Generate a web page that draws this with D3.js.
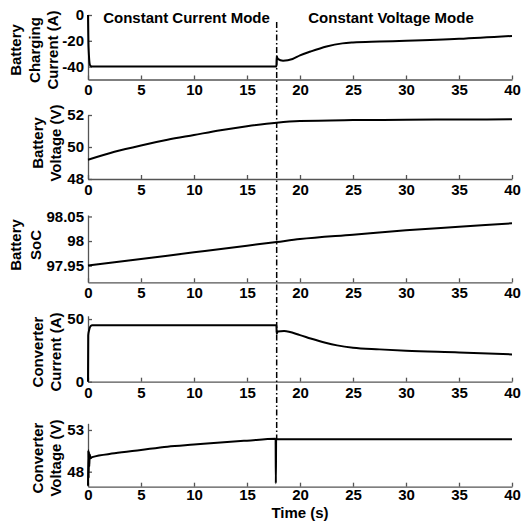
<!DOCTYPE html>
<html lang="en">
<head>
  <meta charset="UTF-8">
  <title>Battery charging modes</title>
  <script src="https://d3js.org/d3.v7.min.js"></script>
  <style>
    body {
      background-color: white;
      margin: 0;
      padding: 0;
    }

    text {
      font-family: "Liberation Sans", Arial, sans-serif;
      font-weight: bold;
      font-size: 15px;
      fill: black;
    }

    .axis path, .axis line {
      stroke: #555;
      stroke-width: 1.3px;
    }

    .trace {
      fill: none;
      stroke: black;
      stroke-width: 2px;
    }
  </style>
</head>
<body>
  <script>
    // Data
    const switchTime = 17.8;
    const xTicks = [0, 5, 10, 15, 20, 25, 30, 35, 40];

    // Battery charging current (A)
    const tCharge = [0, 0.05, 0.2, 0.4, 17.78, 17.8, 17.9, 18.4, 19.3, 20, 21, 22.5, 24, 25, 27.5, 30, 35, 40];
    const vCharge = [0, -25, -39, -40, -40, -32, -34, -35.4, -34.1, -31.3, -28.3, -24.4, -22.0, -21.3, -20.6, -20, -18.5, -16.2];

    // Battery voltage (V)
    const tBattV = [0, 2.5, 5, 7.5, 10, 12.5, 15, 17.8, 20, 25, 30, 35, 40];
    const vBattV = [49.2, 49.7, 50.1, 50.45, 50.75, 51.05, 51.3, 51.52, 51.62, 51.68, 51.7, 51.72, 51.73];

    // Battery SoC
    const tSoc = [0, 5, 10, 15, 17.8, 20, 25, 30, 35, 40];
    const vSoc = [97.95, 97.9635, 97.977, 97.9905, 97.998, 98.004, 98.013, 98.022, 98.029, 98.036];

    // Converter current (A)
    const tConvI = [0, 0.02, 0.1, 0.25, 0.4, 17.78, 17.8, 17.9, 18.5, 20, 21, 22.4, 23.5, 25, 27.5, 30, 35, 40];
    const vConvI = [0, 37, 41, 44.5, 45, 45, 38.5, 40, 40.4, 37.2, 34.5, 31.1, 29, 27.1, 25.8, 24.7, 23.4, 21.8];

    // Converter voltage (V)
    const tConvV = [0, 0.03, 0.06, 0.09, 0.12, 0.16, 0.25, 0.4, 2.5, 5, 7.5, 10, 12.5, 15, 17.7, 17.72, 17.75, 17.8, 20, 30, 40];
    const vConvV = [46.3, 50.6, 47.2, 50.4, 48.6, 50.1, 49.6, 49.75, 50.2, 50.6, 51.0, 51.25, 51.5, 51.72, 51.95, 46.6, 51.9, 51.9, 51.9, 51.9, 51.9];

    const panels = [
      { t: tCharge, v: vCharge, domain: [-50, 0], range: [79.5, 15], pad: 5,
        ticks: [-40, -20, 0], labels: ["-40", "-20", "0"],
        title: ["Battery", "Charging", "Current (A)"], titleX: [21, 40, 58], titleY: 50 },
      { t: tBattV, v: vBattV, domain: [48, 52], range: [179, 115], pad: 5,
        ticks: [48, 50, 52], labels: ["48", "50", "52"],
        title: ["Battery", "Voltage (V)"], titleX: [43, 61], titleY: 143 },
      { t: tSoc, v: vSoc, domain: [97.916, 98.053], range: [282.3, 215], pad: 5,
        ticks: [97.95, 98, 98.05], labels: ["97.95", "98", "98.05"],
        title: ["Battery", "SoC"], titleX: [21, 41], titleY: 245 },
      { t: tConvI, v: vConvI, domain: [0, 52.6], range: [381.7, 315.8], pad: 6,
        ticks: [0, 50], labels: ["0", "50"],
        title: ["Converter", "Current (A)"], titleX: [43, 61], titleY: 352 },
      { t: tConvV, v: vConvV, domain: [46.2, 53.8], range: [486.7, 423.3], pad: 3,
        ticks: [48, 53], labels: ["48", "53"],
        title: ["Converter", "Voltage (V)"], titleX: [43, 61], titleY: 458 }
    ];

    const width = 523;
    const height = 526;

    const svg = d3.select("body").append("svg")
      .attr("width", width)
      .attr("height", height);

    const x = d3.scaleLinear().domain([0, 40]).range([88, 512]);

    panels.forEach(p => {
      p.y = d3.scaleLinear().domain(p.domain).range(p.range);

      // bottom axis, ticks pointing inward
      svg.append("g")
        .attr("class", "axis")
        .attr("transform", `translate(0,${p.range[0]})`)
        .call(d3.axisBottom(x).tickValues(xTicks).tickFormat(d3.format("d"))
          .tickSizeInner(-4).tickSizeOuter(0).tickPadding(p.pad))
        .call(g => g.selectAll("text").attr("font-size", null).attr("font-family", null));

      // left axis
      svg.append("g")
        .attr("class", "axis")
        .attr("transform", `translate(${x(0)},0)`)
        .call(d3.axisLeft(p.y).tickValues(p.ticks).tickFormat((d, i) => p.labels[i])
          .tickSizeInner(-4).tickSizeOuter(0).tickPadding(4))
        .call(g => g.selectAll("text").attr("font-size", null).attr("font-family", null));

      // trace
      const line = d3.line()
        .x((d, i) => x(p.t[i]))
        .y(d => p.y(d))
        .curve(d3.curveMonotoneX);
      svg.append("path")
        .attr("class", "trace")
        .attr("d", line(p.v));

      // rotated y label
      p.title.forEach((s, i) => {
        svg.append("text")
          .attr("transform", `translate(${p.titleX[i]},${p.titleY}) rotate(-90)`)
          .attr("text-anchor", "middle")
          .text(s);
      });
    });

    // mode separator (dash-dot)
    svg.append("line")
      .attr("x1", x(switchTime))
      .attr("x2", x(switchTime))
      .attr("y1", 22)
      .attr("y2", panels[4].y(51.9))
      .attr("stroke", "black")
      .attr("stroke-width", 1.5)
      .attr("stroke-dasharray", "6,2.5,1.5,2.5");

    // mode titles
    svg.append("text")
      .attr("x", 186.5).attr("y", 23)
      .attr("text-anchor", "middle")
      .text("Constant Current Mode");

    svg.append("text")
      .attr("x", 391).attr("y", 23)
      .attr("text-anchor", "middle")
      .text("Constant Voltage Mode");

    // x axis title
    svg.append("text")
      .attr("x", 300).attr("y", 518)
      .attr("text-anchor", "middle")
      .text("Time (s)");
  </script>
</body>
</html>
